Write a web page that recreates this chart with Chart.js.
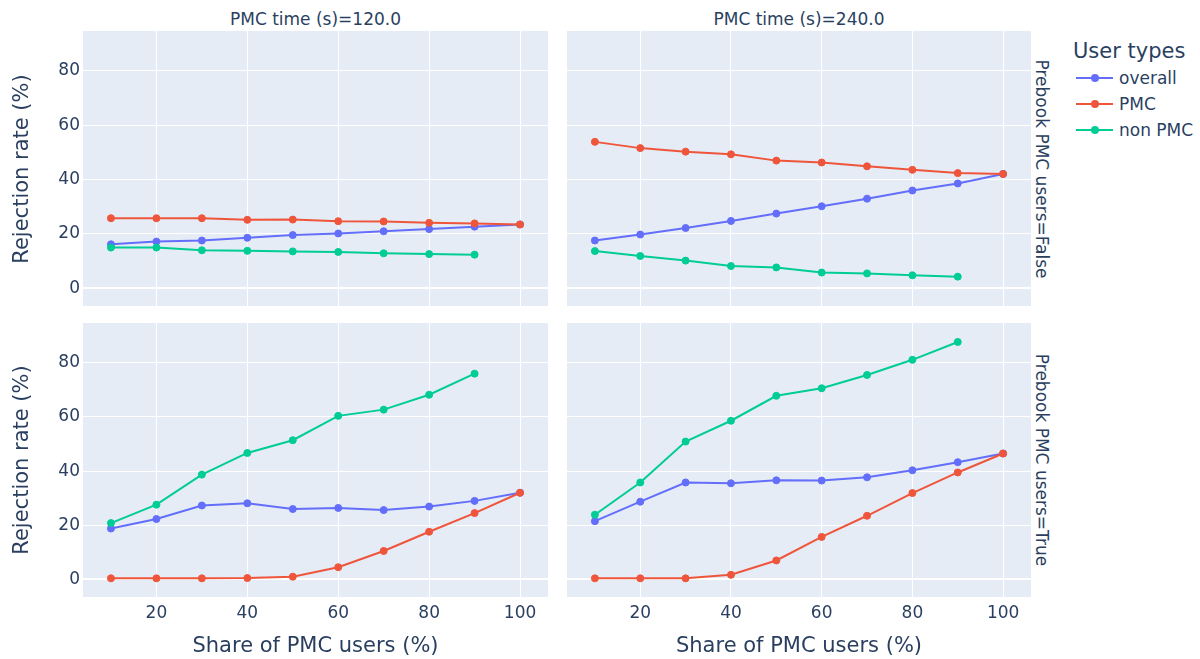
<!DOCTYPE html>
<html>
<head>
<meta charset="utf-8">
<script src="https://cdn.jsdelivr.net/npm/chart.js@4.4.0/dist/chart.umd.min.js"></script>
<style>
  body { margin: 0; background: #fff; }
  #page { position: relative; width: 1200px; height: 659px; overflow: hidden;
          font-family: 'DejaVu Sans', sans-serif; color: #2a3f5f; }
  .panel { position: absolute; }
  .txt { position: absolute; white-space: nowrap; line-height: 1; }
  .mid { transform: translate(-50%, -50%); }
  .up { transform: translate(-50%, -50%) rotate(-90deg); }
  .down { transform: translate(-50%, -50%) rotate(90deg); }
  .left { transform: translate(0, -50%); }
</style>
</head>
<body>
<div id="page"></div>
<script>
// Share of PMC users (%) on the x axis
const shares = [10, 20, 30, 40, 50, 60, 70, 80, 90, 100];
const xTicks = [20, 40, 60, 80, 100];
const yTicks = [0, 20, 40, 60, 80];

const seriesNames = ['overall', 'PMC', 'non PMC'];
const seriesColors = ['#636efa', '#ef553b', '#00cc96'];

const pmcTimes = ['120.0', '240.0'];
const prebookFlags = ['False', 'True'];

// PMC time 120 s, no prebooking
const overall120F = [16.2, 17.2, 17.6, 18.6, 19.6, 20.2, 21.0, 21.8, 22.7, 23.5];
const pmc120F = [25.8, 25.8, 25.8, 25.2, 25.3, 24.7, 24.6, 24.1, 23.9, 23.5];
const nonPmc120F = [15.0, 15.0, 14.0, 13.8, 13.6, 13.4, 12.9, 12.6, 12.4];

// PMC time 240 s, no prebooking
const overall240F = [17.6, 19.8, 22.2, 24.8, 27.5, 30.2, 33.0, 36.0, 38.6, 42.1];
const pmc240F = [53.9, 51.6, 50.3, 49.3, 47.0, 46.3, 44.9, 43.6, 42.4, 42.1];
const nonPmc240F = [13.7, 11.9, 10.2, 8.2, 7.7, 5.8, 5.5, 4.8, 4.3];

// PMC time 120 s, prebooking
const overall120T = [18.8, 22.3, 27.3, 28.1, 26.0, 26.4, 25.6, 26.9, 29.0, 32.0];
const pmc120T = [0.4, 0.4, 0.4, 0.5, 1.0, 4.5, 10.5, 17.6, 24.5, 32.0];
const nonPmc120T = [20.8, 27.6, 38.7, 46.7, 51.4, 60.4, 62.7, 68.2, 76.0];

// PMC time 240 s, prebooking
const overall240T = [21.5, 28.7, 35.8, 35.5, 36.6, 36.5, 37.7, 40.3, 43.3, 46.5];
const pmc240T = [0.4, 0.4, 0.4, 1.7, 7.0, 15.7, 23.5, 31.9, 39.5, 46.5];
const nonPmc240T = [23.9, 35.8, 50.9, 58.6, 67.8, 70.6, 75.5, 81.1, 87.7];

const facets = [
  [[overall120F, pmc120F, nonPmc120F], [overall240F, pmc240F, nonPmc240F]],
  [[overall120T, pmc120T, nonPmc120T], [overall240T, pmc240T, nonPmc240T]]
];

// plot rectangles of the 2x2 grid
const cols = [{ x: 83, w: 465 }, { x: 567, w: 464 }];
const rows = [{ y: 31, h: 275 }, { y: 323, h: 274 }];

const textColor = '#2a3f5f';
Chart.defaults.font.family = "'DejaVu Sans', sans-serif";
Chart.defaults.color = textColor;

const page = document.getElementById('page');

const plotBackground = {
  id: 'plotBackground',
  beforeDraw(chart) {
    const { ctx, chartArea: a } = chart;
    ctx.save();
    ctx.fillStyle = '#e5ecf6';
    ctx.fillRect(a.left, a.top, a.width, a.height);
    ctx.restore();
  }
};

function addText(text, x, y, size, cls) {
  const el = document.createElement('div');
  el.className = 'txt ' + cls;
  el.textContent = text;
  el.style.left = x + 'px';
  el.style.top = y + 'px';
  el.style.fontSize = size + 'px';
  page.appendChild(el);
  return el;
}

function noPadding(scale) {
  scale.paddingLeft = 0;
  scale.paddingRight = 0;
  scale.paddingTop = 0;
  scale.paddingBottom = 0;
}

function makePanel(r, c) {
  const yw = c === 0 ? 70 : 0;
  const xh = r === 1 ? 40 : 0;
  const div = document.createElement('div');
  div.className = 'panel';
  div.style.left = (cols[c].x - yw) + 'px';
  div.style.top = rows[r].y + 'px';
  div.style.width = (cols[c].w + yw) + 'px';
  div.style.height = (rows[r].h + xh) + 'px';
  const canvas = document.createElement('canvas');
  div.appendChild(canvas);
  page.appendChild(div);

  const datasets = facets[r][c].map((vals, i) => ({
    label: seriesNames[i],
    data: vals.map((v, j) => ({ x: shares[j], y: v })),
    borderColor: seriesColors[i],
    backgroundColor: seriesColors[i],
    borderWidth: 2,
    pointRadius: 3.5,
    pointBorderWidth: 1,
    pointHoverRadius: 3.5,
    tension: 0,
    order: 2 - i
  }));

  new Chart(canvas, {
    type: 'line',
    data: { datasets },
    plugins: [plotBackground],
    options: {
      responsive: true,
      maintainAspectRatio: false,
      animation: false,
      layout: { padding: 0, autoPadding: false },
      plugins: { legend: { display: false }, tooltip: { enabled: false } },
      scales: {
        x: {
          type: 'linear',
          min: 3.85,
          max: 106.15,
          afterBuildTicks: s => { s.ticks = xTicks.map(v => ({ value: v })); },
          afterFit: s => { s.height = xh; noPadding(s); },
          border: { display: false },
          grid: { color: '#ffffff', lineWidth: 1, drawTicks: false },
          ticks: { display: r === 1, padding: 6, maxRotation: 0, autoSkip: false,
                   font: { size: 17 }, color: textColor }
        },
        y: {
          min: -6.5,
          max: 94.7,
          afterBuildTicks: s => { s.ticks = yTicks.map(v => ({ value: v })); },
          afterFit: s => { s.width = yw; noPadding(s); },
          border: { display: false },
          grid: { color: '#ffffff', drawTicks: false,
                  lineWidth: ctx => (ctx.tick && ctx.tick.value === 0 ? 2 : 1) },
          ticks: { display: c === 0, padding: 3, font: { size: 17 }, color: textColor }
        }
      }
    }
  });
}

for (let r = 0; r < 2; r++) {
  for (let c = 0; c < 2; c++) makePanel(r, c);
}

// facet column headers and x axis titles
cols.forEach((col, c) => {
  addText('PMC time (s)=' + pmcTimes[c], col.x + col.w / 2, 19, 17, 'mid');
  addText('Share of PMC users (%)', col.x + col.w / 2, 645, 21, 'mid');
});

// facet row labels and y axis titles
rows.forEach((row, r) => {
  addText('Prebook PMC users=' + prebookFlags[r], 1041, row.y + row.h / 2, 17, 'down');
  addText('Rejection rate (%)', 21, row.y + row.h / 2, 21, 'up');
});

// legend
addText('User types', 1073, 51, 21, 'left');
seriesNames.forEach((name, i) => {
  const y = 78 + i * 26;
  const line = document.createElement('div');
  line.style.cssText = `position:absolute;left:1076px;top:${y - 1}px;width:37px;height:2px;background:${seriesColors[i]}`;
  page.appendChild(line);
  const dot = document.createElement('div');
  dot.style.cssText = `position:absolute;left:${1094.5 - 4}px;top:${y - 4}px;width:8px;height:8px;border-radius:50%;background:${seriesColors[i]}`;
  page.appendChild(dot);
  addText(name, 1119, y, 17, 'left');
});
</script>
</body>
</html>
